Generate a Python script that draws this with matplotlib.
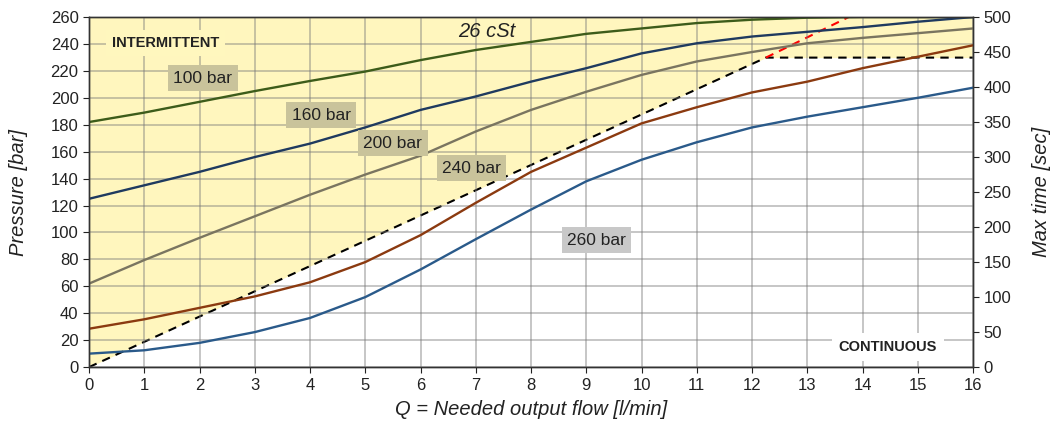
import matplotlib
matplotlib.use("Agg")
from matplotlib import pyplot as plt

plt.rcParams['font.family'] = ['Liberation Sans', 'DejaVu Sans']

# flow values (l/min)
flow = [0, 1, 2, 3, 4, 5, 6, 7, 8, 9, 10, 11, 12, 13, 14, 15, 16]

# pressure curves [bar], one per load
p_100 = [182, 189, 197, 205, 212.5, 219.5, 228, 235.5, 241.5, 247.5, 251.5, 255.5, 258, 259.5, 260, 260, 260]
p_160 = [125, 135, 145, 156, 166, 178, 191, 201, 212, 222, 233, 240.5, 245.5, 249, 252.5, 256.5, 260]
p_200 = [62, 79.5, 96, 112, 128, 143, 157, 175, 191, 204.5, 217, 227, 234, 240.5, 244.5, 248, 251.5]
p_240 = [28.5, 35.5, 44, 52.5, 63, 78, 98, 122, 145, 163, 181, 193, 204, 212, 222, 230.5, 239]
p_260 = [10, 12.5, 18, 26, 36.5, 52, 72.5, 95, 117, 138, 154, 167, 178, 186, 193, 200, 207.5]

curve_labels = ["100 bar", "160 bar", "200 bar", "240 bar", "260 bar"]
curve_colors = ["#3d5c1a", "#1f3a5f", "#7a7560", "#8b3a10", "#2a5a8a"]

# max time limit [sec]
limit_q = [0, 12.25, 16]
limit_t = [0, 442, 442]
extra_q = [12.25, 13.75]
extra_t = [442, 500]

fig = plt.figure(figsize=(10.52, 4.21), dpi=100)
ax = fig.add_axes([0.0846, 0.128, 0.8404, 0.8316])
ax2 = ax.twinx()
ax.set_zorder(ax2.get_zorder() + 1)
ax.patch.set_visible(False)

# intermittent zone (right axis units)
ax2.fill_between(limit_q, limit_t, 500, color="#fff4a8", alpha=0.75, lw=0)
ax2.plot(limit_q, limit_t, color="black", ls=(0, (4, 3)), lw=1.5)
ax2.plot(extra_q, extra_t, color="red", ls=(0, (4, 3)), lw=1.5)
ax2.set_ylim(0, 500)
ax2.set_yticks(range(0, 501, 50))

ax.grid(True, color="#7a7a7a", alpha=0.5, lw=1.2)
for vals, col in zip([p_100, p_160, p_200, p_240, p_260], curve_colors):
    ax.plot(flow, vals, color=col, lw=1.7)

ax.set_xlim(0, 16)
ax.set_ylim(0, 260)
ax.set_xticks(range(0, 17))
ax.set_yticks(range(0, 261, 20))

for a in (ax, ax2):
    a.tick_params(labelsize=12, colors="#222222", length=4)
    for s in a.spines.values():
        s.set_color("#333333")
        s.set_linewidth(1.0)

ax.set_xlabel("Q = Needed output flow [l/min]", fontsize=14.5, style="italic", color="#222222")
ax.set_ylabel("Pressure [bar]", fontsize=14.5, style="italic", color="#222222")
ax2.set_ylabel("Max time [sec]", fontsize=14.5, style="italic", color="#222222")
ax.xaxis.set_label_coords(0.5, -0.094)
ax.yaxis.set_label_coords(-0.069, 0.5)
ax2.yaxis.set_label_coords(1.067, 0.5)

label_pos = [(2.06, 214.7), (4.2, 187.2), (5.5, 166.4), (6.92, 147.8), (9.18, 94.3)]
box_colors = ["#c9c39b", "#c9c39b", "#c9c39b", "#c9c39b", "#c8c8c8"]
for txt, (q, p), bc in zip(curve_labels, label_pos, box_colors):
    ax.text(q, p, txt, fontsize=12.5, color="#222222", ha="center", va="center", zorder=5,
            bbox=dict(boxstyle="square,pad=0.3", fc=bc, ec="none"))

ax.text(1.38, 240.7, "INTERMITTENT", fontsize=10.5, weight="bold", color="#222222",
        ha="center", va="center", zorder=5,
        bbox=dict(boxstyle="square,pad=0.4", fc="#fff7be", ec="none"))
ax.text(14.46, 15, "CONTINUOUS", fontsize=10.5, weight="bold", color="#222222",
        ha="center", va="center", zorder=5,
        bbox=dict(boxstyle="square,pad=0.5", fc="white", ec="none"))
ax.text(7.2, 249, "26 cSt", fontsize=14.5, style="italic", color="#222222",
        ha="center", va="center", zorder=5)

fig.savefig("out.png", dpi=100)
